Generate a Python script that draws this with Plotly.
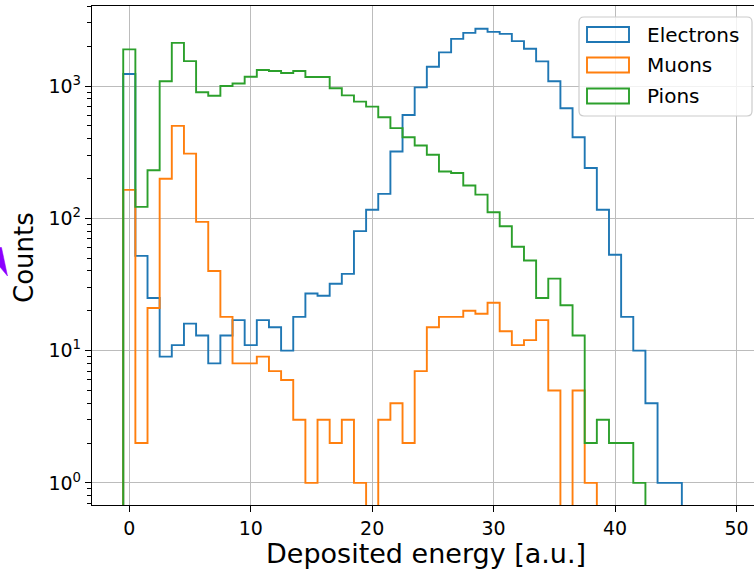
import numpy as np
import plotly.graph_objects as go

# ---------------- data ----------------
bin_edges = np.arange(-0.5, 50.5, 1.0)

electrons = [1232, 52, 25, 9, 11, 16, 13, 8, 13, 17, 11, 17, 15, 10, 18, 27, 26, 32, 38, 80,
             116, 153, 320, 604, 977, 1398, 1795, 2270, 2522, 2711, 2565, 2477, 2183, 1911, 1534,
             1085, 679, 410, 240, 116, 53, 18, 10, 4, 1, 1, 0, 0, 0, 0]
muons = [164, 2, 21, 199, 500, 308, 94, 40, 18, 8, 8, 9, 7, 6, 3, 1, 3, 2, 3, 1,
         0, 3, 4, 2, 7, 15, 18, 18, 20, 19, 23, 14, 11, 12, 17, 5, 0, 5, 1, 0,
         0, 0, 0, 0, 0, 0, 0, 0, 0, 0]
pions = [1892, 122, 231, 1085, 2120, 1543, 897, 845, 1000, 1045, 1175, 1320, 1297, 1253, 1297,
         1169, 1169, 961, 850, 762, 698, 581, 480, 410, 355, 302, 226, 220, 177, 151,
         111, 87, 61, 48, 25, 35, 22, 13, 2, 3, 2, 2, 1, 0, 0, 0, 0, 0, 0, 0]

series_names = ["Electrons", "Muons", "Pions"]
series_colors = ["#1f77b4", "#ff7f0e", "#2ca02c"]
series_counts = [electrons, muons, pions]

x_tick_vals = [0, 10, 20, 30, 40, 50]
y_tick_vals = [1, 10, 100, 1000]
y_tick_text = ["10<sup>0</sup>", "10<sup>1</sup>", "10<sup>2</sup>", "10<sup>3</sup>"]
y_minor_vals = [m * 10 ** k for k in range(-1, 4) for m in range(2, 10)]

x_label = "Deposited energy [a.u.]"
y_label = "Counts"

# ---------------- layout geometry (pixels) ----------------
W, H = 754, 569
L, T, R, B = 92, 6, 0, 64
PW, PH = W - L - R, H - T - B
FONT = "DejaVu Sans"
FLOOR = 1e-3


def paper(px, py):
    return (px - L) / PW, (H - B - py) / PH


def step_path(edges, counts):
    xs, ys = [edges[0]], [FLOOR]
    for i, c in enumerate(counts):
        v = c if c > 0 else FLOOR
        xs += [edges[i], edges[i + 1]]
        ys += [v, v]
    xs.append(edges[-1])
    ys.append(FLOOR)
    return xs, ys


fig = go.Figure()
for name, col, cnt in zip(series_names, series_colors, series_counts):
    xs, ys = step_path(bin_edges, cnt)
    fig.add_trace(go.Scatter(x=xs, y=ys, mode="lines", name=name,
                             line=dict(color=col, width=1.9), showlegend=False,
                             hoverinfo="skip"))

shapes = []
annotations = []


def rounded_rect(x0, y0, x1, y1, r):
    ax0, ay0 = paper(x0, y0)
    ax1, ay1 = paper(x1, y1)
    rx, ry = r / PW, r / PH
    return (f"M {ax0+rx},{ay0} L {ax1-rx},{ay0} Q {ax1},{ay0} {ax1},{ay0-ry} "
            f"L {ax1},{ay1+ry} Q {ax1},{ay1} {ax1-rx},{ay1} L {ax0+rx},{ay1} "
            f"Q {ax0},{ay1} {ax0},{ay1+ry} L {ax0},{ay0-ry} Q {ax0},{ay0} {ax0+rx},{ay0} Z")


# legend box (rounded, semi-transparent)
shapes.append(dict(type="path", xref="paper", yref="paper", layer="above",
                   path=rounded_rect(579, 17, 752, 116, 5),
                   fillcolor="rgba(255,255,255,0.8)", line=dict(color="#cccccc", width=1.2)))

legend_rows = [34.5, 65, 96]
for name, col, cy in zip(series_names, series_colors, legend_rows):
    x0, y0 = paper(587, cy - 7.5)
    x1, y1 = paper(629, cy + 7.5)
    shapes.append(dict(type="rect", xref="paper", yref="paper", layer="above",
                       x0=x0, x1=x1, y0=y1, y1=y0, line=dict(color=col, width=1.9),
                       fillcolor="rgba(0,0,0,0)"))
    tx, ty = paper(645, cy)
    annotations.append(dict(x=tx, y=ty, xref="paper", yref="paper", text=name,
                            showarrow=False, xanchor="left", yanchor="middle",
                            font=dict(family=FONT, size=20, color="black")))

# axis titles
ax_, ay_ = paper(426, 553)
annotations.append(dict(x=ax_, y=ay_, xref="paper", yref="paper", text=x_label,
                        showarrow=False, xanchor="center", yanchor="middle",
                        font=dict(family=FONT, size=27, color="black")))
ax_, ay_ = paper(23.5, 257.5)
annotations.append(dict(x=ax_, y=ay_, xref="paper", yref="paper", text=y_label,
                        showarrow=False, xanchor="center", yanchor="middle", textangle=-90,
                        font=dict(family=FONT, size=26, color="black")))

# purple arrow fragment at left edge
pts = [paper(0, 247.5), paper(1.5, 247.5), paper(7.5, 276), paper(0, 267)]
path = "M " + " L ".join(f"{a},{b}" for a, b in pts) + " Z"
shapes.append(dict(type="path", xref="paper", yref="paper", layer="above", path=path,
                   fillcolor="#8c00ff", line=dict(color="#8c00ff", width=0.5)))

x_range = [(L - 129.3) / 12.144, (W - R - 129.3) / 12.144]
y_range = [-(505 - 482.9) / 132.3, 3 + (86 - T) / 132.3]

fig.update_layout(
    width=W, height=H,
    margin=dict(l=L, r=R, t=T, b=B, pad=0),
    paper_bgcolor="white", plot_bgcolor="white",
    showlegend=False,
    shapes=shapes, annotations=annotations,
    font=dict(family=FONT, color="black"),
    xaxis=dict(range=x_range, tickvals=x_tick_vals, ticktext=[str(v) for v in x_tick_vals],
               showgrid=True, gridcolor="#bcbcbc", gridwidth=1.3, zeroline=False,
               showline=True, linecolor="black", linewidth=1.3, mirror=True,
               ticks="outside", ticklen=6, tickwidth=1.3, tickcolor="black",
               tickfont=dict(family=FONT, size=19, color="black")),
    yaxis=dict(type="log", range=y_range, tickvals=y_tick_vals, ticktext=y_tick_text,
               showgrid=True, gridcolor="#bcbcbc", gridwidth=1.3, zeroline=False,
               showline=True, linecolor="black", linewidth=1.3, mirror=False,
               ticks="outside", ticklen=6, tickwidth=1.3, tickcolor="black",
               tickfont=dict(family=FONT, size=19, color="black"),
               minor=dict(tickvals=y_minor_vals, ticks="outside", ticklen=3.5,
                          tickwidth=1, tickcolor="black", showgrid=False)),
)

fig.write_html("out.html")
